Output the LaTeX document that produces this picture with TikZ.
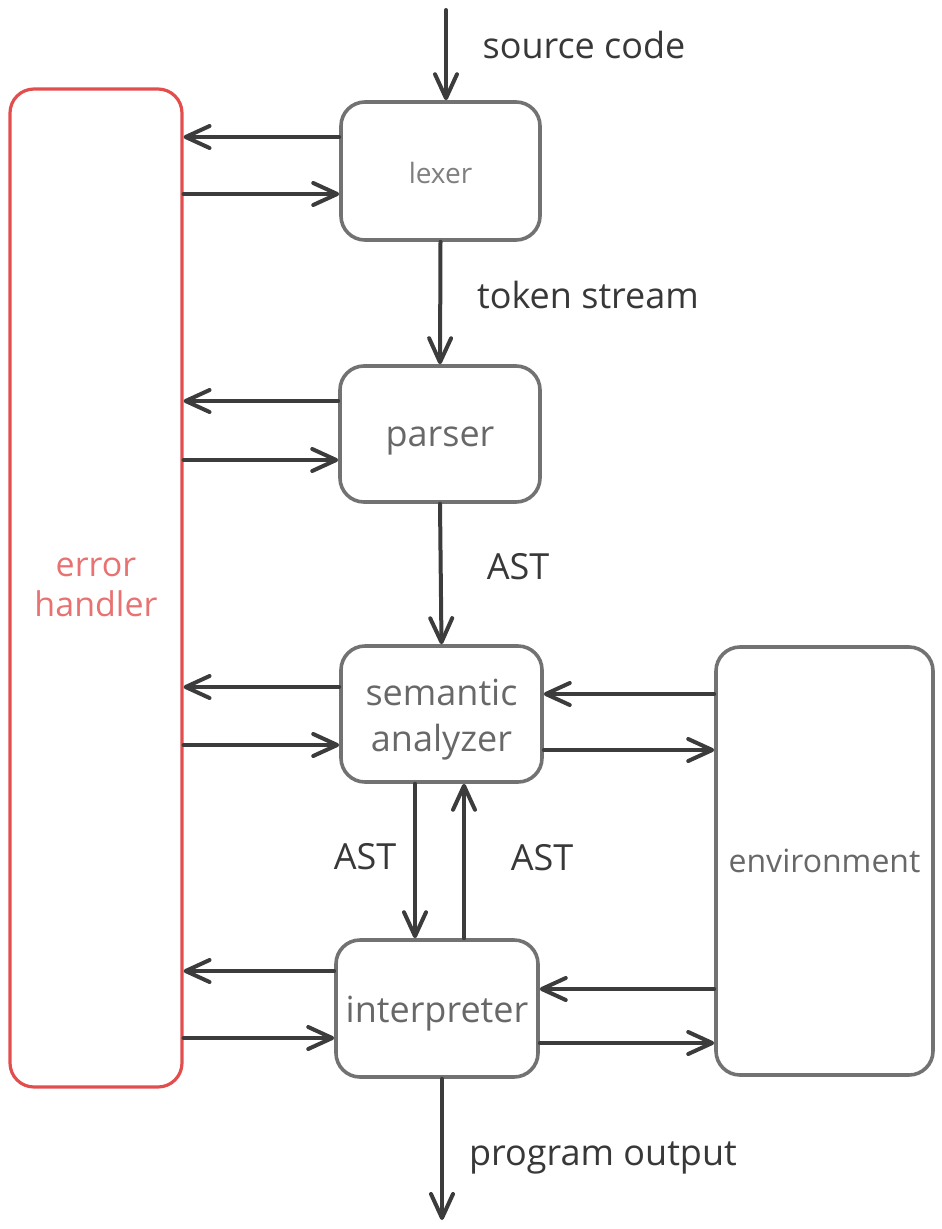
\documentclass[tikz,border=0pt]{standalone}
\usepackage{fontspec}
\setmainfont{Open Sans}
\usetikzlibrary{arrows.meta,calc}
\definecolor{boxcol}{HTML}{727272}
\definecolor{arrcol}{HTML}{3C3C3C}
\definecolor{txtcol}{HTML}{686868}
\definecolor{lblcol}{HTML}{383838}
\definecolor{errcol}{HTML}{E24E4E}
\definecolor{errtxt}{HTML}{E87272}
\tikzset{
  stage/.style={draw=boxcol, line width=3.6pt, rounded corners=24pt, inner sep=0pt},
  stagetext/.style={text=txtcol, align=center, inner sep=0pt, font=\fontsize{36}{46}\selectfont},
  arr/.style={draw=arrcol, line width=4pt, line cap=round, -{Straight Barb[length=24pt,width=22pt,line cap=round,line join=round]}},
  lbl/.style={text=lblcol, inner sep=0pt, font=\fontsize{36}{44}\selectfont},
}
\begin{document}
\begin{tikzpicture}[x=1pt,y=-1pt]
\useasboundingbox (0,0) rectangle (942,1229);
% boxes
\node[stage, minimum width=199pt, minimum height=138pt] (lexer) at (440.5,171) {};
\node[stage, minimum width=200pt, minimum height=136pt] (parser) at (440,434) {};
\node[stage, minimum width=201pt, minimum height=136pt] (sem) at (441.5,714) {};
\node[stage, minimum width=202pt, minimum height=137pt] (interp) at (437,1008.5) {};
\node[stage, minimum width=217pt, minimum height=428pt] (env) at (824.5,861) {};
\node[stage, draw=errcol, line width=3.2pt, minimum width=172pt, minimum height=998pt] (err) at (96,588) {};
% box texts
\node[stagetext, font=\fontsize{28}{34}\selectfont, text=txtcol!85] (lexer-t) at ([yshift=-2pt]lexer.center) {lexer};
\node[stagetext] (parser-t) at ([yshift=-7pt]parser.center) {parser};
\node[stagetext] (sem-t) at ([yshift=-6pt]sem.center) {semantic\\analyzer};
\node[stagetext] (interp-t) at ([yshift=-5pt]interp.center) {interpreter};
\node[stagetext, font=\fontsize{32}{40}\selectfont] (env-t) at (env.center) {environment};
\node[stagetext, text=errtxt, font=\fontsize{34}{40}\selectfont] (err-t) at ([yshift=1pt]err.center) {error\\handler};
% main flow
\coordinate (src) at (446,10);
\coordinate (out) at (442,1220);
\draw[arr] (src) -- (src |- lexer.north);
\draw[arr] (lexer.south) -- (parser.north);
\draw[arr] (parser.south) -- (sem.north);
\draw[arr] (sem.south -| 415,0) -- (interp.north -| 415,0);
\draw[arr] (interp.north -| 464,0) -- (sem.south -| 464,0);
\draw[arr] (interp.south -| out) -- (out);
% error handler links
\draw[arr] (lexer.west |- 0,137) -- (err.east |- 0,137);
\draw[arr] (err.east |- 0,194) -- (lexer.west |- 0,194);
\draw[arr] (parser.west |- 0,401) -- (err.east |- 0,401);
\draw[arr] (err.east |- 0,460) -- (parser.west |- 0,460);
\draw[arr] (sem.west |- 0,687) -- (err.east |- 0,687);
\draw[arr] (err.east |- 0,745) -- (sem.west |- 0,745);
\draw[arr] (interp.west |- 0,971) -- (err.east |- 0,971);
\draw[arr] (err.east |- 0,1038) -- (interp.west |- 0,1038);
% environment links
\draw[arr] (env.west |- 0,694) -- (sem.east |- 0,694);
\draw[arr] (sem.east |- 0,750) -- (env.west |- 0,750);
\draw[arr] (env.west |- 0,989) -- (interp.east |- 0,989);
\draw[arr] (interp.east |- 0,1043) -- (env.west |- 0,1043);
% labels
\node[lbl] (lsrc) at (584,45) {source code};
\node[lbl] (ltok) at (588,295) {token stream};
\node[lbl] (last1) at (518,567) {AST};
\node[lbl] (last2) at (365,857) {AST};
\node[lbl] (last3) at (542,858) {AST};
\node[lbl] (lout) at (603,1158) {program output};
\end{tikzpicture}
\end{document}
